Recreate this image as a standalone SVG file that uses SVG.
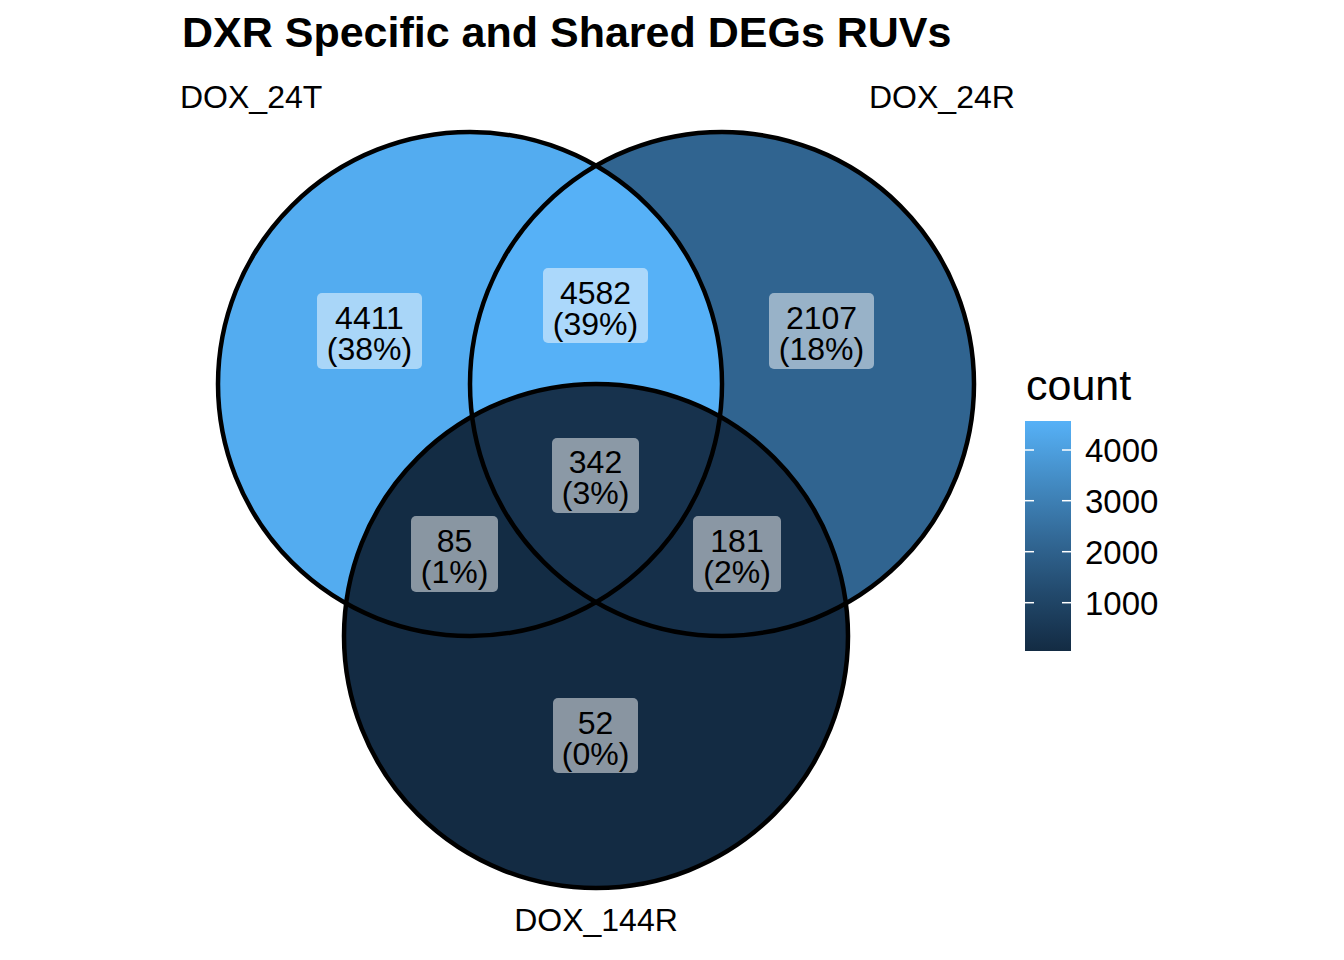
<svg xmlns="http://www.w3.org/2000/svg" width="1344" height="960" viewBox="0 0 1344 960">
<style>
text{font-family:"Liberation Sans",Arial,sans-serif;fill:#000}
.title{font-size:43px;font-weight:bold}
.set{font-size:32px}
.lab{font-size:32px;text-anchor:middle}
.box{fill:#fff;fill-opacity:0.5}
.edge{fill:none;stroke:#000;stroke-width:4.5}
.tick{stroke:#fff;stroke-width:1.5}
.leg{font-size:33px}
</style>
<defs>
<clipPath id="cB"><circle cx="722" cy="384" r="252"/></clipPath>
<clipPath id="cC"><circle cx="596" cy="636" r="252"/></clipPath>
<clipPath id="cBC"><circle cx="596" cy="636" r="252" clip-path="url(#cB)"/></clipPath>
<linearGradient id="grad" x1="0" y1="1" x2="0" y2="0">
<stop offset="0" stop-color="#132B43"/>
<stop offset="0.25" stop-color="#22496C"/>
<stop offset="0.5" stop-color="#336A98"/>
<stop offset="0.75" stop-color="#448DC6"/>
<stop offset="1" stop-color="#56B1F7"/>
</linearGradient>
</defs>
<rect width="1344" height="960" fill="#fff"/>
<text class="title" x="182" y="47">DXR Specific and Shared DEGs RUVs</text>
<g id="regions">
<circle id="A" cx="470" cy="384" r="252" fill="#53ACF0"/>
<circle id="B" cx="722" cy="384" r="252" fill="#306490"/>
<circle id="C" cx="596" cy="636" r="252" fill="#132B43"/>
<circle id="AB" cx="470" cy="384" r="252" fill="#56B1F7" clip-path="url(#cB)"/>
<circle id="AC" cx="470" cy="384" r="252" fill="#132C44" clip-path="url(#cC)"/>
<circle id="BC" cx="722" cy="384" r="252" fill="#152F49" clip-path="url(#cC)"/>
<circle id="ABC" cx="470" cy="384" r="252" fill="#17324D" clip-path="url(#cBC)"/>
</g>
<g id="edges">
<circle class="edge" cx="470" cy="384" r="252"/>
<circle class="edge" cx="722" cy="384" r="252"/>
<circle class="edge" cx="596" cy="636" r="252"/>
</g>
<g id="setlabels">
<text class="set" x="180" y="108">DOX_24T</text>
<text class="set" x="869" y="108">DOX_24R</text>
<text class="set" x="596" y="931" text-anchor="middle">DOX_144R</text>
</g>
<g id="lab-A"><rect class="box" x="317" y="293" width="105" height="76" rx="5"/><text class="lab" x="369.5" y="329">4411</text><text class="lab" x="369.5" y="360">(38%)</text></g>
<g id="lab-AB"><rect class="box" x="543" y="268" width="105" height="75" rx="5"/><text class="lab" x="595.5" y="304">4582</text><text class="lab" x="595.5" y="335">(39%)</text></g>
<g id="lab-B"><rect class="box" x="769" y="293" width="105" height="76" rx="5"/><text class="lab" x="821.5" y="329">2107</text><text class="lab" x="821.5" y="360">(18%)</text></g>
<g id="lab-ABC"><rect class="box" x="552" y="438" width="87" height="75" rx="5"/><text class="lab" x="595.5" y="473">342</text><text class="lab" x="595.5" y="504">(3%)</text></g>
<g id="lab-AC"><rect class="box" x="411" y="516" width="87" height="76" rx="5"/><text class="lab" x="454.5" y="552">85</text><text class="lab" x="454.5" y="583">(1%)</text></g>
<g id="lab-BC"><rect class="box" x="693" y="516" width="88" height="76" rx="5"/><text class="lab" x="737" y="552">181</text><text class="lab" x="737" y="583">(2%)</text></g>
<g id="lab-C"><rect class="box" x="553" y="698" width="85" height="75" rx="5"/><text class="lab" x="595.5" y="734">52</text><text class="lab" x="595.5" y="765">(0%)</text></g>
<g id="legend">
<text x="1026" y="400" style="font-size:43px">count</text>
<rect x="1025" y="421" width="46" height="230" fill="url(#grad)"/>
<line class="tick" x1="1025" y1="450" x2="1034" y2="450"/><line class="tick" x1="1062" y1="450" x2="1071" y2="450"/>
<line class="tick" x1="1025" y1="500.7" x2="1034" y2="500.7"/><line class="tick" x1="1062" y1="500.7" x2="1071" y2="500.7"/>
<line class="tick" x1="1025" y1="551.7" x2="1034" y2="551.7"/><line class="tick" x1="1062" y1="551.7" x2="1071" y2="551.7"/>
<line class="tick" x1="1025" y1="602.7" x2="1034" y2="602.7"/><line class="tick" x1="1062" y1="602.7" x2="1071" y2="602.7"/>
<text class="leg" x="1085" y="462">4000</text>
<text class="leg" x="1085" y="513">3000</text>
<text class="leg" x="1085" y="564">2000</text>
<text class="leg" x="1085" y="615">1000</text>
</g>
</svg>
